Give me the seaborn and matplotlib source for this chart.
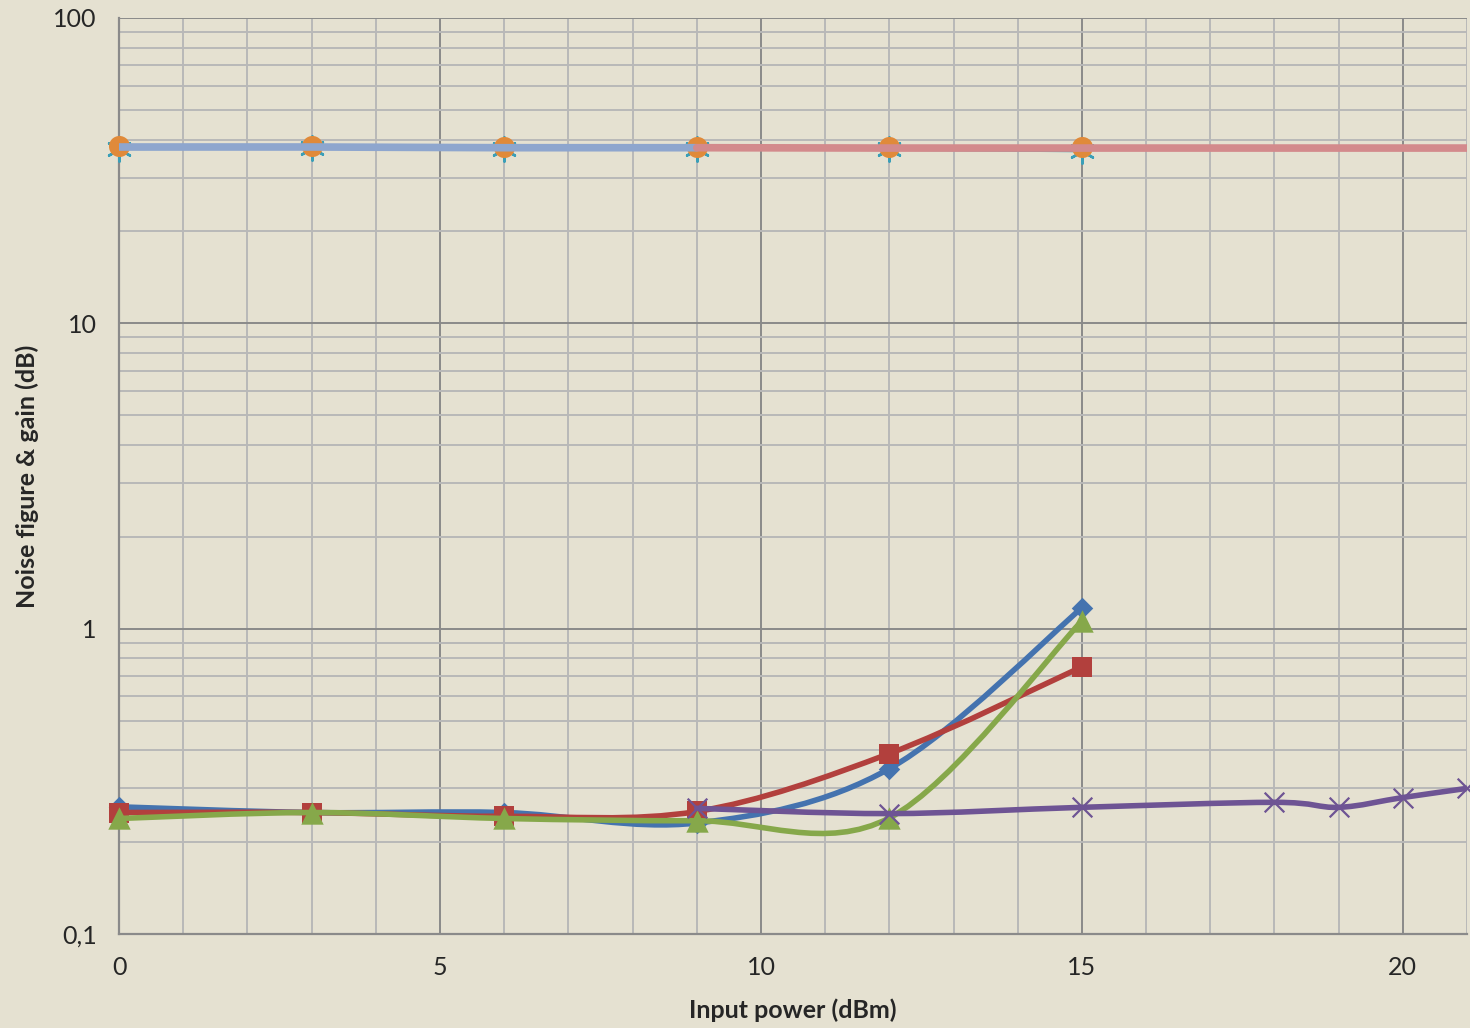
import matplotlib.pyplot as plt
import matplotlib.ticker as mticker
from matplotlib.path import Path
from matplotlib.patches import PathPatch
import numpy as np
import pandas as pd
import seaborn as sns

# Noise figure curves (bottom group)
x_nf = [0, 3, 6, 9, 12, 15]
nf_blue = [0.261, 0.250, 0.250, 0.231, 0.348, 1.17]
nf_red = [0.250, 0.250, 0.243, 0.252, 0.390, 0.75]
nf_green = [0.239, 0.250, 0.239, 0.235, 0.240, 1.06]
x_purple = [9, 12, 15, 18, 19, 20, 21]
nf_purple = [0.258, 0.248, 0.260, 0.270, 0.260, 0.280, 0.300]

# Gain curves (top group)
x_gain = [0, 3, 6, 9, 12, 15]
gain_teal = [37.3, 37.4, 37.3, 37.2, 37.1, 36.7]
gain_orange = [38.0, 38.0, 37.9, 37.9, 37.8, 37.7]
x_gain_blue = [0, 3, 6, 9]
gain_blue = [37.8, 37.8, 37.6, 37.6]
x_gain_pink = [9, 12, 15, 18, 21]
gain_pink = [37.6, 37.5, 37.5, 37.5, 37.5]

x_ticks = [0, 5, 10, 15, 20]
y_ticks = [0.1, 1, 10, 100]
y_tick_labels = ['0,1', '1', '10', '100']

BG = '#E5E1D1'

sns.set_theme(style='white')
plt.rcParams['font.family'] = ['Lato', 'DejaVu Sans']


def smooth_path(xs, ys):
    """Excel-like smoothed line: cubic Bezier segments built in (x, log y) space."""
    px = np.asarray(xs, float)
    py = np.log10(np.asarray(ys, float))
    n = len(px)
    verts = [(px[0], 10 ** py[0])]
    codes = [Path.MOVETO]
    for i in range(n - 1):
        i0 = max(i - 1, 0)
        i3 = min(i + 2, n - 1)
        c1 = (px[i] + (px[i + 1] - px[i0]) / 6, py[i] + (py[i + 1] - py[i0]) / 6)
        c2 = (px[i + 1] - (px[i3] - px[i]) / 6, py[i + 1] - (py[i3] - py[i]) / 6)
        verts += [(c1[0], 10 ** c1[1]), (c2[0], 10 ** c2[1]), (px[i + 1], 10 ** py[i + 1])]
        codes += [Path.CURVE4] * 3
    return Path(verts, codes)


fig = plt.figure(figsize=(14.7, 10.28), dpi=100, facecolor=BG)
ax = fig.add_axes([0.081, 0.0914, 0.917, 0.8911])
ax.set_facecolor(BG)
ax.set_yscale('log')
ax.set_xlim(0, 21)
ax.set_ylim(0.1, 100)

# grid
ax.xaxis.set_major_locator(mticker.FixedLocator(x_ticks))
ax.xaxis.set_minor_locator(mticker.MultipleLocator(1))
ax.yaxis.set_major_locator(mticker.FixedLocator(y_ticks))
ax.yaxis.set_minor_locator(mticker.LogLocator(base=10, subs=np.arange(2, 10)))
ax.yaxis.set_minor_formatter(mticker.NullFormatter())
ax.set_yticklabels(y_tick_labels)
ax.grid(which='minor', color='#B8B8B8', lw=1.4, zorder=0)
ax.grid(which='major', color='#8A8A8A', lw=1.4, zorder=0)
ax.set_axisbelow(True)
for side in ['top', 'right']:
    ax.spines[side].set_visible(False)
for side in ['left', 'bottom']:
    ax.spines[side].set_color('#8A8A8A')
    ax.spines[side].set_linewidth(1.6)
ax.tick_params(which='both', length=0)
ax.tick_params(axis='x', pad=16, labelsize=18)
ax.tick_params(axis='y', pad=16, labelsize=18)

# gain group: thin teal & orange lines with markers, thick blue/pink lines on top
sns.lineplot(x=x_gain, y=gain_teal, ax=ax, color='#3A9FB8', lw=2, zorder=3)
sns.scatterplot(x=x_gain, y=gain_teal, ax=ax, marker=(6, 2, 0), s=300,
                color='#3A9FB8', linewidth=1.8, zorder=4, clip_on=False)
sns.lineplot(x=x_gain, y=gain_orange, ax=ax, color='#E08A3A', lw=1.5, zorder=5)
sns.scatterplot(x=x_gain, y=gain_orange, ax=ax, marker='o', s=230,
                color='#E08A3A', linewidth=0, zorder=6, clip_on=False)
sns.lineplot(x=x_gain_blue, y=gain_blue, ax=ax, color='#8EA6CE', lw=5.5, zorder=7)
sns.lineplot(x=x_gain_pink, y=gain_pink, ax=ax, color='#D38A8C', lw=5.5, zorder=7)

# noise figure group: smoothed lines + markers
series = [
    (x_nf, nf_blue, '#4473AF', 'D', 120, 8),
    (x_nf, nf_red, '#B2403D', 's', 210, 9),
    (x_nf, nf_green, '#86A84A', '^', 260, 10),
    (x_purple, nf_purple, '#6E5494', 'x', 200, 11),
]
for xs, ys, col, mk, size, z in series:
    ax.add_patch(PathPatch(smooth_path(xs, ys), fill=False, edgecolor=col,
                           lw=4, capstyle='round', joinstyle='round', zorder=z))
    if mk == 'x':
        sns.scatterplot(x=xs, y=ys, ax=ax, marker='x', s=size, color=col,
                        linewidth=1.6, zorder=z + 0.5, clip_on=False)
    else:
        sns.scatterplot(x=xs, y=ys, ax=ax, marker=mk, s=size, color=col,
                        linewidth=0, zorder=z + 0.5, clip_on=False)

ax.set_xlabel('Input power (dBm)', fontsize=18, fontweight='bold', labelpad=14)
ax.set_ylabel('Noise figure & gain (dB)', fontsize=18, fontweight='bold', labelpad=10)

plt.savefig('out.png', dpi=100, facecolor=BG)
